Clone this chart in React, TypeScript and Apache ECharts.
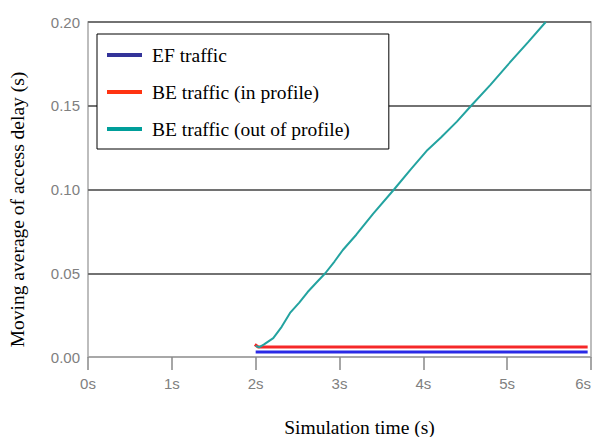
import React, { useEffect, useRef } from "react";
import * as echarts from "echarts";

const seriesNames = ["EF traffic", "BE traffic (in profile)", "BE traffic (out of profile)"];
const efTraffic: [number, number][] = [
  [2.0, 0.003],
  [5.96, 0.003],
];
const beInProfile: [number, number][] = [
  [1.99, 0.0075],
  [2.03, 0.006],
  [5.96, 0.006],
];
const beOutProfile: [number, number][] = [
  [2.0, 0.0066],
  [2.04, 0.0058],
  [2.1, 0.0075],
  [2.21, 0.0113],
  [2.31, 0.018],
  [2.41, 0.0263],
  [2.52, 0.0325],
  [2.62, 0.0388],
  [2.72, 0.0442],
  [2.83, 0.05],
  [2.94, 0.057],
  [3.04, 0.0639],
  [3.2, 0.073],
  [3.4, 0.0855],
  [3.65, 0.1],
  [3.85, 0.112],
  [4.05, 0.1236],
  [4.21, 0.131],
  [4.4, 0.1405],
  [4.57, 0.15],
  [4.8, 0.1625],
  [5.0, 0.174],
  [5.25, 0.188],
  [5.46, 0.2],
];
const yTicks = [0, 0.05, 0.1, 0.15, 0.2];
const xTicks = [0, 1, 2, 3, 4, 5, 6];

const plotColors = ["#2a2ae6", "#f52828", "#23a3a0"];
const legendColors = ["#333399", "#ff3311", "#009e9a"];

export default function App() {
  const ref = useRef<HTMLDivElement>(null);
  useEffect(() => {
    if (!ref.current) return;
    const chart = echarts.init(ref.current, null, { renderer: "svg" });
    const tickFont = {
      fontFamily: "Liberation Sans, Arial, sans-serif",
      fontSize: 15,
      color: "#808080",
    };
    const serif = "Liberation Serif, Times New Roman, serif";
    chart.setOption({
      animation: false,
      grid: {
        left: 88,
        right: 6,
        top: 22,
        bottom: 80,
        show: true,
        borderColor: "#a8a8a8",
        borderWidth: 1.5,
        backgroundColor: "#fff",
        outerBoundsMode: "none",
        containLabel: false,
      },
      legend: {
        orient: "vertical",
        left: 97,
        top: 34,
        padding: [11, 39, 10, 10],
        itemGap: 17,
        itemWidth: 35,
        itemHeight: 4,
        icon: "rect",
        borderColor: "#000",
        borderWidth: 1,
        backgroundColor: "#fff",
        textStyle: {
          fontFamily: serif,
          fontSize: 19.5,
          color: "#000",
          lineHeight: 19,
          padding: [0, 0, 0, 5],
        },
        data: seriesNames.map((n, i) => ({ name: n, itemStyle: { color: legendColors[i] } })),
      },
      xAxis: {
        type: "value",
        min: xTicks[0],
        max: xTicks[xTicks.length - 1],
        interval: 1,
        offset: 2,
        name: "Simulation time (s)",
        nameLocation: "middle",
        nameGap: 58,
        nameTextStyle: {
          fontFamily: serif,
          fontSize: 19.5,
          color: "#000",
          padding: [0, 0, 0, 40],
        },
        axisLine: { show: false },
        axisTick: { show: true, length: 13, lineStyle: { color: "#888", width: 1.5 } },
        axisLabel: {
          ...tickFont,
          margin: 17,
          alignMaxLabel: "right",
          formatter: (v: number) => `${v}s`,
        },
        splitLine: { show: false },
      },
      yAxis: {
        type: "value",
        min: yTicks[0],
        max: yTicks[yTicks.length - 1],
        interval: 0.05,
        name: "Moving average of access delay (s)",
        nameLocation: "middle",
        nameGap: 61,
        nameTextStyle: {
          fontFamily: serif,
          fontSize: 19.5,
          color: "#000",
          padding: [0, 40, 0, 0],
        },
        axisLine: { show: false },
        axisTick: { show: false },
        axisLabel: { ...tickFont, margin: 8, formatter: (v: number) => v.toFixed(2) },
        splitLine: {
          show: true,
          lineStyle: { color: ["#a8a8a8", "#727272", "#727272", "#727272", "#727272"], width: 2 },
        },
      },
      series: [
        {
          name: seriesNames[0],
          type: "line",
          data: efTraffic,
          showSymbol: false,
          lineStyle: { color: plotColors[0], width: 3 },
          itemStyle: { color: plotColors[0] },
          z: 2,
        },
        {
          name: seriesNames[1],
          type: "line",
          data: beInProfile,
          showSymbol: false,
          lineStyle: { color: plotColors[1], width: 3 },
          itemStyle: { color: plotColors[1] },
          z: 3,
        },
        {
          name: seriesNames[2],
          type: "line",
          data: beOutProfile,
          showSymbol: false,
          lineStyle: { color: plotColors[2], width: 2 },
          itemStyle: { color: plotColors[2] },
          z: 4,
        },
      ],
    });
    return () => chart.dispose();
  }, []);
  return <div ref={ref} style={{ width: 597, height: 437, position: "absolute", left: 0, top: 0 }} />;
}
